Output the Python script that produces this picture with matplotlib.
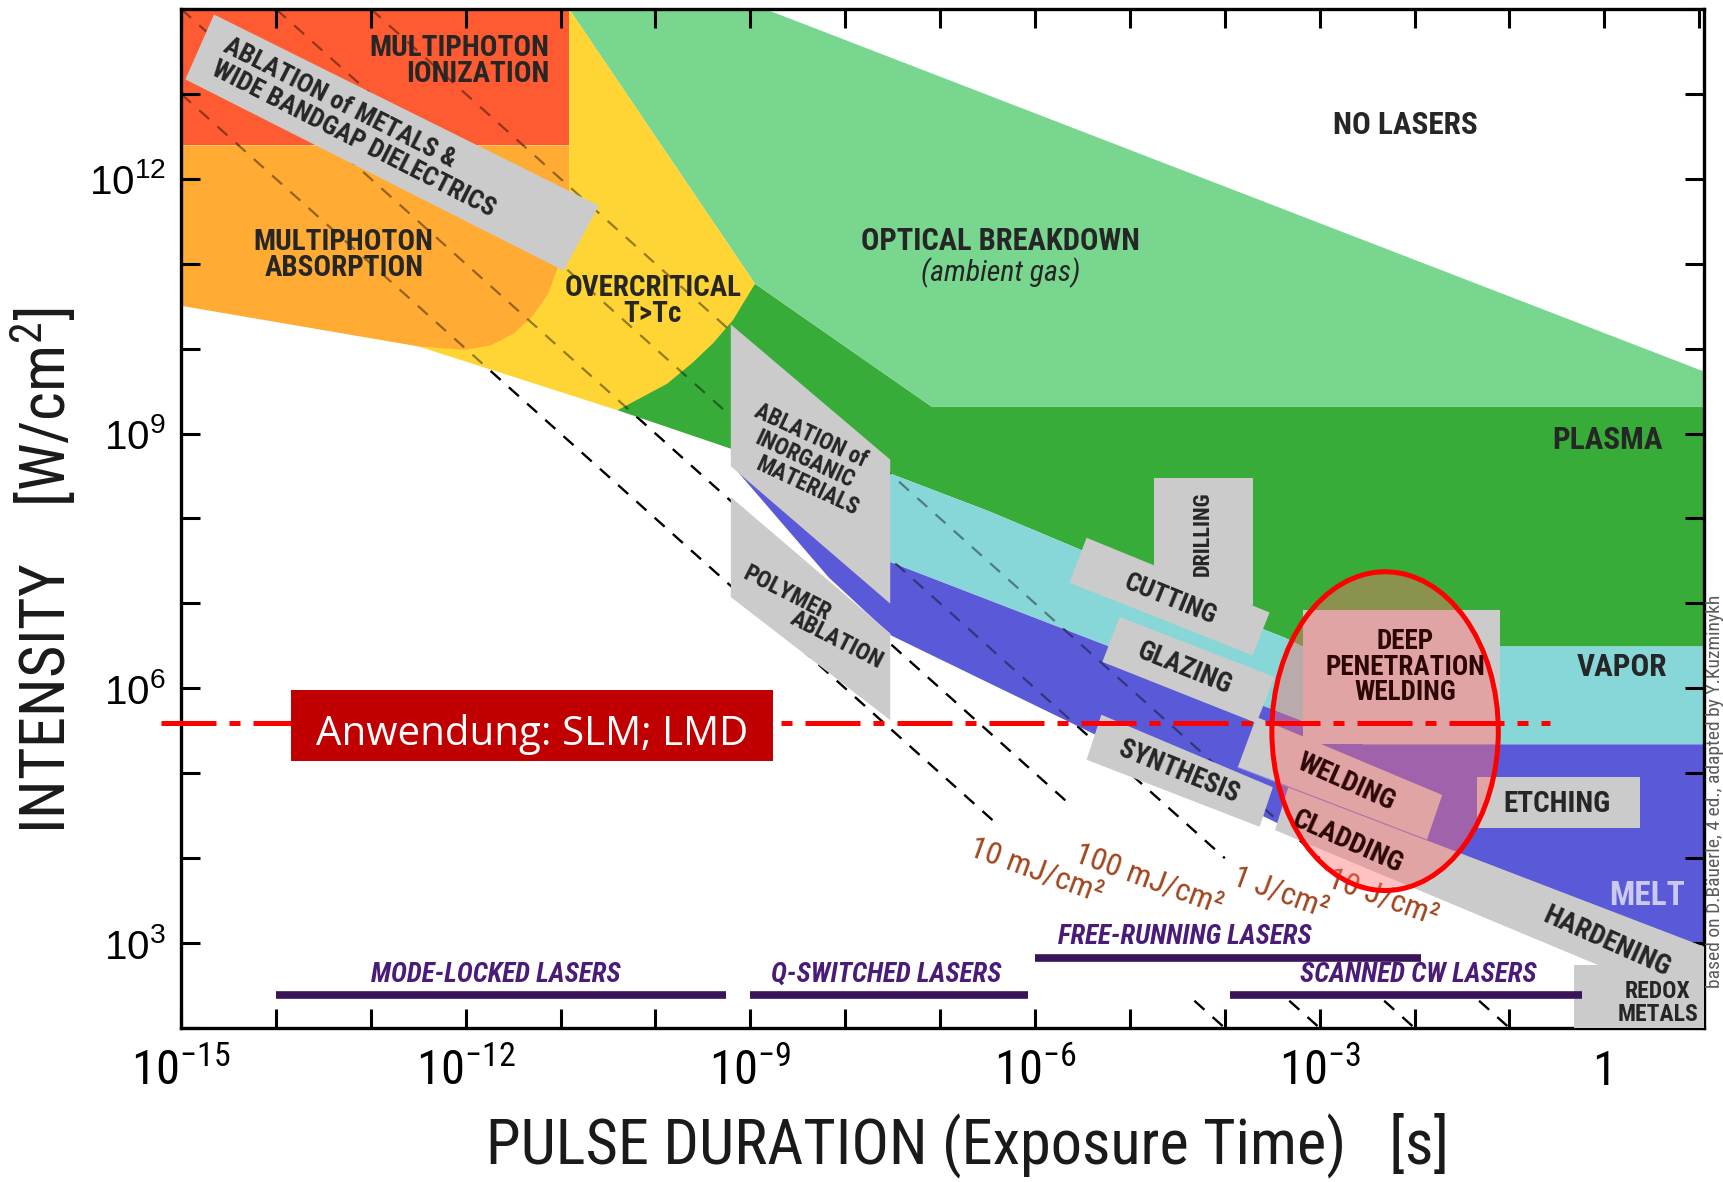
import numpy as np
import matplotlib
matplotlib.use("Agg")
import matplotlib.pyplot as plt
from matplotlib import font_manager
from matplotlib.patches import Ellipse, Rectangle
from matplotlib.ticker import FixedLocator, FixedFormatter, NullLocator

# condensed face for the labels; plain Liberation Sans squeezed a bit if none is installed
installed = {f.name for f in font_manager.fontManager.ttflist}
NARROW, SQ, TSQ = "Liberation Sans", 0.84, 0.89
for cand in ["Liberation Sans Narrow", "Roboto Condensed", "Noto Sans Condensed", "Open Sans Condensed"]:
    if cand in installed:
        NARROW, SQ, TSQ = cand, 1.0, 1.0
        break

# ---- regions: vertices as (log10 pulse duration [s], log10 intensity [W/cm^2]) ----
MP_IONIZATION = [(-15, 12.395), (-10.91, 12.395), (-10.91, 14), (-15, 14)]
MP_ABSORPTION = [(-15, 12.395), (-10.91, 12.395), (-10.91, 11.748), (-10.933, 11.385),
                 (-11.00, 11.049), (-11.13, 10.647), (-11.292, 10.388), (-11.49, 10.181),
                 (-11.732, 10.039), (-12.01, 9.987), (-12.497, 10.026), (-15, 10.505)]
OVERCRITICAL = [(-10.91, 14), (-8.951, 10.764), (-9.183, 10.337), (-9.392, 10.065),
                (-9.612, 9.832), (-9.878, 9.586), (-10.40, 9.275), (-12.497, 10.026),
                (-10.91, 12.0)]
OPTICAL_BREAKDOWN = [(-10.91, 14), (-8.847, 14), (1.026, 9.741), (1.05, 9.741),
                     (1.05, 9.314), (-7.086, 9.314), (-8.951, 10.764)]
PLASMA = [(-8.951, 10.764), (-7.086, 9.314), (1.05, 9.314), (1.05, 6.492), (-3.181, 6.492),
          (-3.366, 6.595), (-4.397, 7.049), (-5.545, 7.644), (-6.483, 8.084),
          (-7.514, 8.524), (-9.206, 8.822), (-10.40, 9.275), (-9.6, 10.0)]
VAPOR = [(-7.6, 8.56), (-6.483, 8.084), (-5.545, 7.644), (-4.397, 7.049), (-3.366, 6.595),
         (-3.181, 6.492), (1.05, 6.492), (1.05, 5.340), (-2.543, 5.340), (-7.6, 7.52)]
MELT = [(1.05, 5.340), (-2.543, 5.340), (-7.532, 7.489), (-9.183, 8.615), (-8.175, 7.307),
        (-7.514, 6.621), (-3.413, 4.395), (1.05, 2.453)]

# ---- application boxes (grey) ----
ABL_METALS = [(-14.652, 13.935), (-10.597, 11.683), (-10.968, 10.919), (-14.954, 13.171)]
ABL_INORGANIC = [(-9.206, 10.285), (-7.526, 8.693), (-7.526, 6.997), (-9.206, 8.615)]
POLYMER_ABL = [(-9.206, 8.252), (-7.526, 6.647), (-7.526, 5.625), (-9.206, 7.074)]
DRILLING = [(-4.745, 8.473), (-3.702, 8.473), (-3.702, 6.984), (-4.745, 6.984)]
CUTTING = [(-5.457, 7.773), (-3.528, 6.893), (-3.707, 6.388), (-5.637, 7.243)]
GLAZING = [(-5.109, 6.841), (-3.475, 6.133), (-3.667, 5.591), (-5.290, 6.311)]
SYNTHESIS = [(-5.301, 5.689), (-3.494, 4.835), (-3.633, 4.369), (-5.457, 5.159)]
DEEP_PEN = [(-3.181, 6.919), (-1.095, 6.919), (-1.095, 5.340), (-3.181, 5.340)]
WELDING = [(-3.667, 5.663), (-1.709, 4.744), (-1.871, 4.214), (-3.864, 5.068)]
HARDENING = [(-3.331, 4.835), (1.05, 2.958), (1.05, 2.220), (-3.471, 4.330)]
ETCHING = [(-1.338, 4.951), (0.377, 4.951), (0.377, 4.356), (-1.338, 4.356)]
REDOX = [(-0.319, 2.738), (1.05, 2.738), (1.05, 2.0), (-0.319, 2.0)]

# ---- constant fluence lines, I = F / t ----
FLUENCE = [0.01, 0.1, 1.0, 10.0]                      # J/cm^2
FLUENCE_LABELS = ["10 mJ/cm²", "100 mJ/cm²", "1 J/cm²", "10 J/cm²"]
LINE_FROM = [-15.0, -15.0, -14.0, -13.0]              # log10 t
LINE_TO = [-6.43, -5.65, -4.0, -3.0]
TAIL_I = [2.32, 2.0]                                  # log10 I of the short end pieces

# ---- laser types: (t start, t end) and bar intensity ----
LASERS = ["MODE-LOCKED LASERS", "Q-SWITCHED LASERS", "FREE-RUNNING LASERS", "SCANNED CW LASERS"]
LASER_T = [(1e-14, 10**-9.26), (1e-9, 10**-6.07), (1e-6, 10**-1.93), (10**-3.95, 10**-0.24)]
LASER_I = [10**2.388, 10**2.388, 10**2.828, 10**2.388]

APPLICATION_I = 10**5.586                            # SLM / LMD working intensity
APPLICATION_T = [10**-15.21, 10**-0.573]

XTICK_EXP = list(range(-15, 2))
YTICK_EXP = list(range(2, 15))

COLORS = {
    "red": "#fe5b32", "orange": "#ffab34", "yellow": "#fed535", "lightgreen": "#78d68f",
    "green": "#38ac38", "cyan": "#87d7d8", "blue": "#5a5ad8", "grey": "#cbcbcb",
}
TXT = "#262626"

fig = plt.figure(figsize=(17.24, 11.82), dpi=100)
ax = fig.add_axes([0.105, 0.1303, 0.8834, 0.8621])
ax.set_xscale("log")
ax.set_yscale("log")
ax.set_xlim(10**-15, 10**1.05)
ax.set_ylim(1e2, 1e14)


def fill(verts, color, z):
    lt, li = np.array(verts, dtype=float).T
    ax.fill(10**lt, 10**li, color=color, lw=0, zorder=z)


def label(lt, li, s, size, rot=0, weight="bold", color=TXT, style="normal", z=5, **kw):
    kw.setdefault("ha", "center")
    ax.text(10**lt, 10**li, s, va="center", rotation=rot, rotation_mode="anchor",
            fontsize=size * SQ, family=NARROW, fontweight=weight, fontstyle=style,
            color=color, zorder=z, **kw)


# fluence lines: solid black underneath (shows on white), faint copy over the colours
for F, a, b in zip(FLUENCE, LINE_FROM, LINE_TO):
    t = np.logspace(a, b, 60)
    t_tail = F / 10.0**np.array(TAIL_I)
    for z, alpha in [(0.5, 1.0), (2, 0.42)]:
        ax.plot(t, F / t, color="black", alpha=alpha, lw=1.6, ls=(0, (6, 5)), zorder=z)
        ax.plot(t_tail, F / t_tail, color="black", alpha=alpha, lw=1.6, ls=(0, (6, 5)), zorder=z)

fill(PLASMA, COLORS["green"], 1)
fill(OPTICAL_BREAKDOWN, COLORS["lightgreen"], 1)
fill(OVERCRITICAL, COLORS["yellow"], 1)
fill(VAPOR, COLORS["cyan"], 1)
fill(MELT, COLORS["blue"], 1)
fill(MP_ABSORPTION, COLORS["orange"], 1)
fill(MP_IONIZATION, COLORS["red"], 1)

for box in [ABL_METALS, ABL_INORGANIC, POLYMER_ABL, DRILLING, CUTTING, GLAZING, SYNTHESIS,
            DEEP_PEN, HARDENING, WELDING, ETCHING, REDOX]:
    fill(box, COLORS["grey"], 3)
wt, wi = np.array(WELDING[2:]).T
ax.plot(10**wt, 10**wi, color="#7a7ae0", lw=0.8, zorder=3.5)

# region names
label(-11.118, 13.392, "MULTIPHOTON\nIONIZATION", 21, ha="right", multialignment="right", linespacing=0.9)
label(-13.285, 11.100, "MULTIPHOTON\nABSORPTION", 21, linespacing=0.9)
label(-10.029, 10.557, "OVERCRITICAL\nT>Tc", 21, linespacing=0.9)
label(-6.367, 11.262, "OPTICAL BREAKDOWN", 22)
label(-6.367, 10.900, "(ambient gas)", 21.5, weight="normal", style="italic")
label(-2.092, 12.628, "NO LASERS", 22.5)
label(0.029, 8.926, "PLASMA", 22.5)
label(0.180, 6.246, "VAPOR", 22.5)
label(0.446, 3.553, "MELT", 24, color="#cacaf0")

# application names
label(-13.123, 12.602, "ABLATION of METALS &\nWIDE BANDGAP DIELECTRICS", 19, rot=-27,
      multialignment="left", linespacing=1.08)
label(-8.360, 8.975, "ABLATION of", 16.5, rot=-25)
label(-8.430, 8.698, "INORGANIC", 16.5, rot=-25)
label(-8.395, 8.372, "MATERIALS", 16.5, rot=-25)
label(-8.612, 7.110, "POLYMER", 17, rot=-27)
label(-8.090, 6.562, "ABLATION", 17, rot=-27)
label(-4.230, 7.825, "DRILLING", 16, rot=90)
label(-4.575, 7.040, "CUTTING", 19, rot=-22)
label(-4.424, 6.227, "GLAZING", 19.5, rot=-22)
label(-4.487, 5.011, "SYNTHESIS", 19.5, rot=-22)
label(-0.504, 4.641, "ETCHING", 21)
label(0.024, 3.016, "HARDENING", 20, rot=-24)
label(0.562, 2.298, "REDOX\nMETALS", 17, linespacing=1.0)
# names inside the highlighted window stay dark on top of the tint
label(-2.101, 6.246, "DEEP\nPENETRATION\nWELDING", 19.5, linespacing=0.93, color="#2e0606", z=6.5)
label(-2.717, 4.887, "WELDING", 20, rot=-24, color="#2e0606", z=6.5)
label(-2.706, 4.188, "CLADDING", 20, rot=-24, color="#2e0606", z=6.5)

# fluence labels
FL_POS = [(-5.985, 3.851), (-4.803, 3.748), (-3.413, 3.592), (-2.335, 3.540)]
for (lt, li), s in zip(FL_POS, FLUENCE_LABELS):
    label(lt, li, s, 23, rot=-20, weight="normal", color="#a0461e")

# laser bars
LASER_LABEL_T = [-11.686, -7.572, -4.421, -1.964]
for name, (t0, t1), I, lt in zip(LASERS, LASER_T, LASER_I, LASER_LABEL_T):
    ax.plot([t0, t1], [I, I], color="#3a1458", lw=5.5, solid_capstyle="butt", zorder=5)
    label(lt, np.log10(I) + 0.246, name, 19.5, style="italic", color="#4a1c78")

# highlighted process window
ax.add_patch(Ellipse((0.7906, 0.2913), 0.1487, 0.3128, transform=ax.transAxes,
                     facecolor=(1.0, 0.43, 0.43, 0.42), edgecolor="#ff0000", lw=3.6, zorder=6))

ax.plot(APPLICATION_T, [APPLICATION_I] * 2, color="#ff0000", lw=3.6,
        ls=(0, (11, 2.6, 2.2, 2.6)), dash_capstyle="butt", clip_on=False, zorder=7)
ax.add_patch(Rectangle((0.0722, 0.2621), 0.3162, 0.0691, transform=ax.transAxes,
                       facecolor="#c00000", edgecolor="none", zorder=8))
ax.text(0.2303, 0.2773, "Anwendung: SLM; LMD", transform=ax.transAxes, ha="center",
        va="baseline", fontsize=29, family=["Open Sans", "DejaVu Sans"], color="white", zorder=9)

# axes styling
for sp in ax.spines.values():
    sp.set_linewidth(2.4)
ax.xaxis.set_major_locator(FixedLocator(10.0**np.array(XTICK_EXP)))
ax.yaxis.set_major_locator(FixedLocator(10.0**np.array(YTICK_EXP)))
ax.xaxis.set_minor_locator(NullLocator())
ax.yaxis.set_minor_locator(NullLocator())
xlabels = ["1" if k == 0 else (r"$\mathregular{10^{%d}}$" % k if k % 3 == 0 else "") for k in XTICK_EXP]
ylabels = [r"$\mathregular{10^{%d}}$" % k if k % 3 == 0 else "" for k in YTICK_EXP]
ax.xaxis.set_major_formatter(FixedFormatter(xlabels))
ax.yaxis.set_major_formatter(FixedFormatter(ylabels))
ax.tick_params(which="major", direction="in", length=14, width=2.2, top=True, right=True)
ax.tick_params(axis="x", pad=15, labelsize=35 * SQ, labelfontfamily=NARROW)
ax.tick_params(axis="y", pad=11, labelsize=29, labelfontfamily="Liberation Sans")

fig.text(0.5613, 0.0315, "PULSE DURATION (Exposure Time)   [s]", ha="center", va="center",
         fontsize=45 * TSQ, family=NARROW, color="#1a1a1a")
fig.text(0.0255, 0.517, "INTENSITY    [W/cm$\\mathregular{^2}$]", ha="center", va="center",
         rotation=90, fontsize=45 * TSQ, family=NARROW, color="#1a1a1a")
fig.text(0.9946, 0.3308, "based on D.Bäuerle, 4 ed., adapted by Y.Kuzminykh", rotation=90,
         ha="center", va="center", fontsize=14 if SQ == 1.0 else 13,
         family=NARROW, color="#5a5a5a")

fig.savefig("out.png", dpi=100)
